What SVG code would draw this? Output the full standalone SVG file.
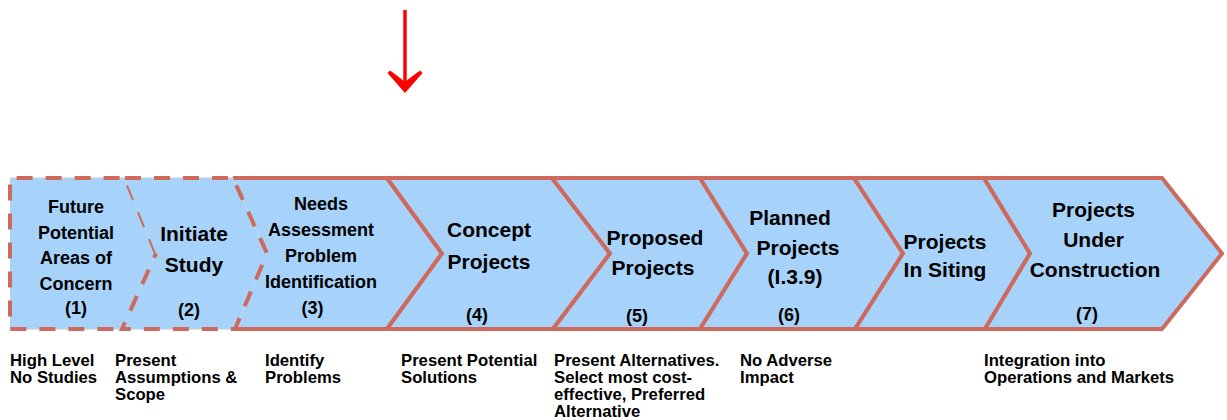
<svg xmlns="http://www.w3.org/2000/svg" width="1227" height="420" viewBox="0 0 1227 420">
<style>
.fill{fill:#A7D3FA;stroke:none}
.solid{fill:none;stroke:#CD6A5D;stroke-width:4;stroke-linejoin:miter}
.dash{fill:none;stroke:#CD6A5D;stroke-width:4;stroke-dasharray:16 13}
.edge{fill:none;stroke:#C4CCD4;stroke-width:1}
text{font-family:"Liberation Sans",Arial,sans-serif;font-weight:bold;fill:#000;text-anchor:middle}
.t18{font-size:18px}
.t21{font-size:21px}
.note{font-size:16.7px;text-anchor:start}
</style>
<rect width="1227" height="420" fill="#fff"/>
<g id="arrow">
<line x1="405" y1="10" x2="405" y2="86" stroke="#FF0000" stroke-width="3.5"/>
<path d="M405,93 L387.5,73 L390,70.5 Q399,77 405,82 Q411,77 420,70.5 L422.5,73 Z" fill="#FF0000"/>
</g>
<g id="stage3">
<path class="fill" d="M233,178 L387,178 L442,253.5 L387,329 L235,329 L267,253.5 Z"/>
<path class="solid" d="M233,178 L387,178 L442,253.5 L387,329 L235,329"/>
</g>
<g id="stage4">
<path class="fill" d="M387,178 L552,178 L610,253.5 L553,329 L387,329 L442,253.5 Z"/>
<path class="solid" d="M387,178 L552,178 L610,253.5 L553,329 L387,329 L442,253.5 Z"/>
</g>
<g id="stage5">
<path class="fill" d="M552,178 L700,178 L747,253.5 L700,329 L553,329 L610,253.5 Z"/>
<path class="solid" d="M552,178 L700,178 L747,253.5 L700,329 L553,329 L610,253.5 Z"/>
</g>
<g id="stage6">
<path class="fill" d="M700,178 L854,178 L903,253.5 L855,329 L700,329 L747,253.5 Z"/>
<path class="solid" d="M700,178 L854,178 L903,253.5 L855,329 L700,329 L747,253.5 Z"/>
</g>
<g id="stage6b">
<path class="fill" d="M854,178 L984,178 L1030,253.5 L985,329 L855,329 L903,253.5 Z"/>
<path class="solid" d="M854,178 L984,178 L1030,253.5 L985,329 L855,329 L903,253.5 Z"/>
</g>
<g id="stage7">
<path class="fill" d="M984,178 L1162,178 L1222,253.5 L1162,329 L985,329 L1030,253.5 Z"/>
<path class="solid" d="M984,178 L1162,178 L1222,253.5 L1162,329 L985,329 L1030,253.5 Z"/>
</g>
<g id="stage1">
<path class="fill" d="M10,178 L125,178 L156,253.5 L122,329 L10,329 Z"/>
<path class="edge" d="M10,178 L125,178 M10,329 L122,329"/>
<path class="dash" d="M156,253.5 L125,178 L10,178 L10,329 L122,329"/>
</g>
<g id="stage2">
<path class="fill" d="M125,178 L233,178 L267,253.5 L235,329 L122,329 L156,253.5 Z"/>
<path class="edge" d="M125,178 L233,178 M122,329 L235,329"/>
<path class="dash" d="M125,178 L233,178 L267,253.5 L235,329 L122,329 L156,253.5"/>
</g>
<g id="labels">
<text class="t18" x="76" y="213">Future</text>
<text class="t18" x="76" y="238.5">Potential</text>
<text class="t18" x="76" y="264">Areas of</text>
<text class="t18" x="76" y="289.5">Concern</text>
<text class="t18" x="76" y="314">(1)</text>
<text class="t21" x="194" y="241">Initiate</text>
<text class="t21" x="194" y="272">Study</text>
<text class="t18" x="189" y="316">(2)</text>
<text class="t18" x="321" y="210">Needs</text>
<text class="t18" x="321" y="235.5">Assessment</text>
<text class="t18" x="321" y="261.5">Problem</text>
<text class="t18" x="321" y="287.5">Identification</text>
<text class="t18" x="312.5" y="314">(3)</text>
<text class="t21" x="489" y="237">Concept</text>
<text class="t21" x="489" y="268.5">Projects</text>
<text class="t18" x="477" y="321">(4)</text>
<text class="t21" x="655" y="244.5">Proposed</text>
<text class="t21" x="653" y="275">Projects</text>
<text class="t18" x="637" y="322">(5)</text>
<text class="t21" x="790" y="225">Planned</text>
<text class="t21" x="798" y="255">Projects</text>
<text class="t21" x="795" y="284">(I.3.9)</text>
<text class="t18" x="789" y="321">(6)</text>
<text class="t21" x="945" y="248.5">Projects</text>
<text class="t21" x="945" y="277">In Siting</text>
<text class="t21" x="1093.5" y="217">Projects</text>
<text class="t21" x="1093.5" y="247">Under</text>
<text class="t21" x="1095" y="277">Construction</text>
<text class="t18" x="1087" y="320">(7)</text>
</g>
<g id="notes">
<text class="note" x="10" y="366">High Level</text>
<text class="note" x="10" y="383">No Studies</text>
<text class="note" x="115" y="366">Present</text>
<text class="note" x="115" y="383">Assumptions &amp;</text>
<text class="note" x="115" y="400">Scope</text>
<text class="note" x="265" y="366">Identify</text>
<text class="note" x="265" y="383">Problems</text>
<text class="note" x="401" y="366">Present Potential</text>
<text class="note" x="401" y="383">Solutions</text>
<text class="note" x="554" y="366">Present Alternatives.</text>
<text class="note" x="554" y="383">Select most cost-</text>
<text class="note" x="554" y="400">effective, Preferred</text>
<text class="note" x="554" y="417">Alternative</text>
<text class="note" x="740" y="366">No Adverse</text>
<text class="note" x="740" y="383">Impact</text>
<text class="note" x="984" y="366">Integration into</text>
<text class="note" x="984" y="383">Operations and Markets</text>
</g>
</svg>
